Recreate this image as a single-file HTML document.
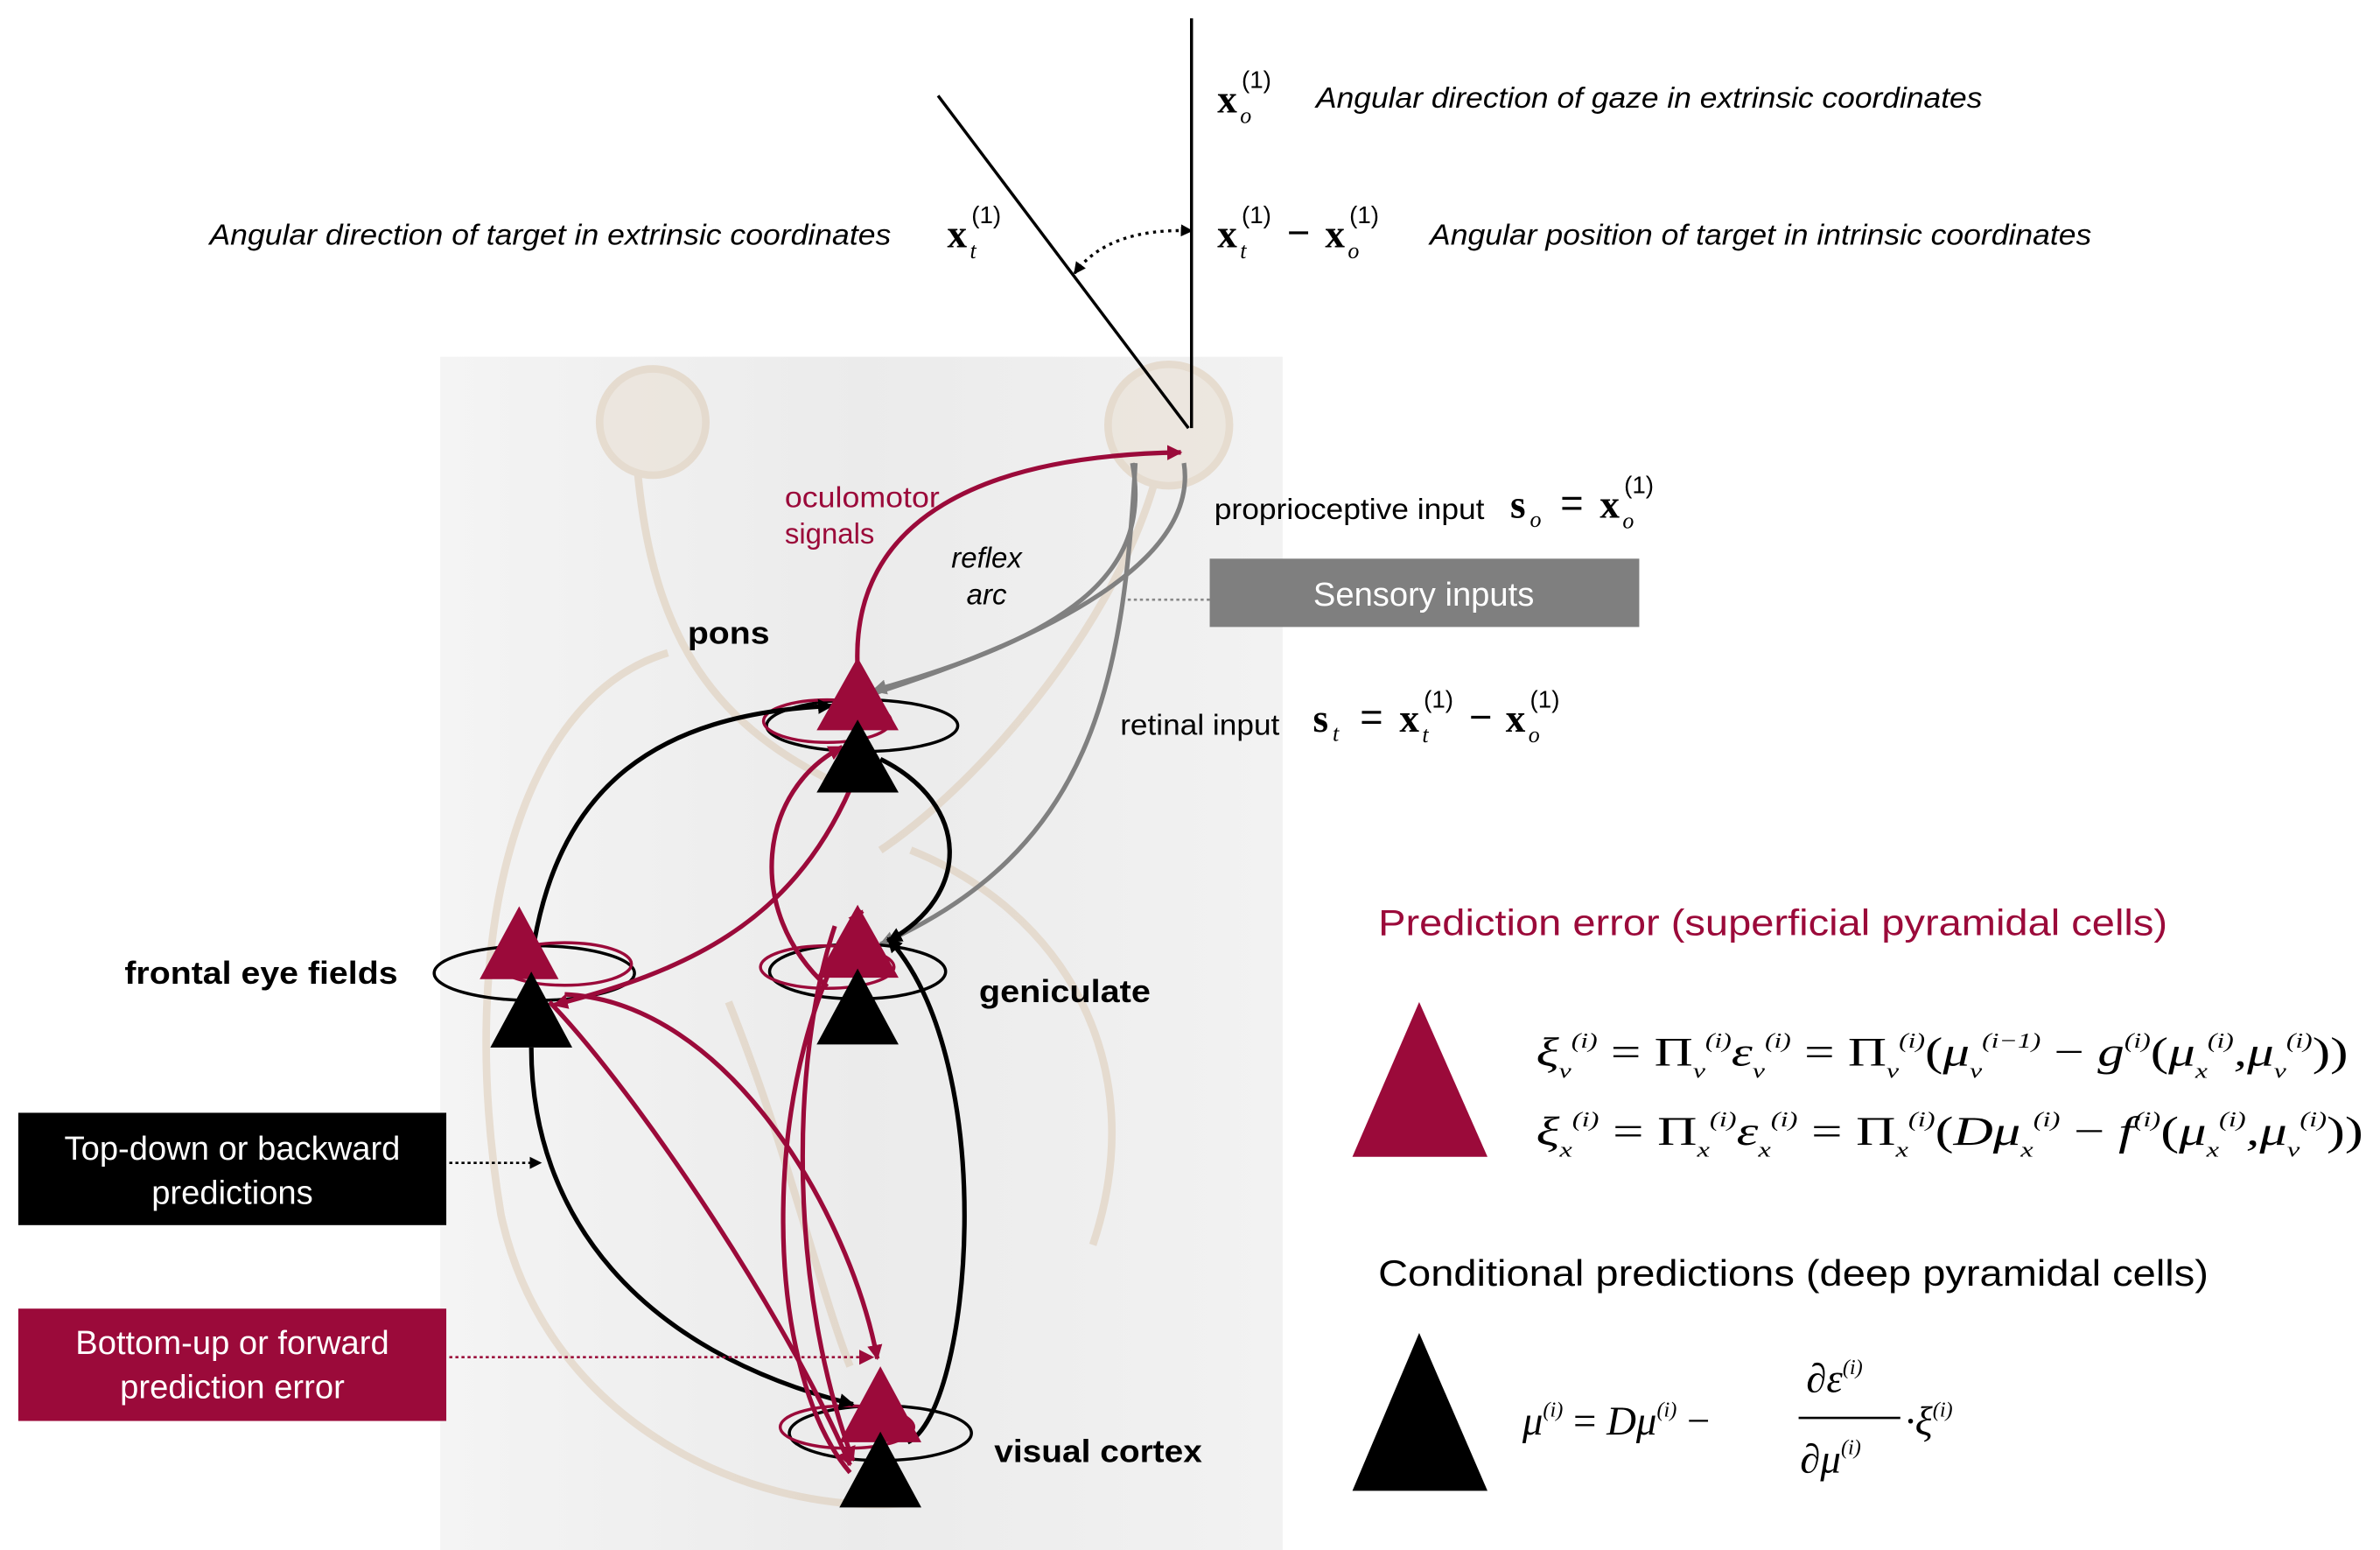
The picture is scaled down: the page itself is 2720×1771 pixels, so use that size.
<!DOCTYPE html>
<html><head><meta charset="utf-8"><style>
html,body{margin:0;padding:0;background:#fff;}
svg{display:block;}
text{font-family:"Liberation Sans",sans-serif;}
.m{font-family:"Liberation Serif",serif;font-style:italic;}
.b{font-family:"Liberation Serif",serif;font-weight:bold;}
</style></head><body>
<svg width="2720" height="1771" viewBox="0 0 1568 1021" xmlns="http://www.w3.org/2000/svg">
<defs>
<linearGradient id="bg" x1="0" x2="1" y1="0" y2="0">
<stop offset="0" stop-color="#f4f4f4"/><stop offset="0.5" stop-color="#ebebeb"/><stop offset="1" stop-color="#f2f2f2"/></linearGradient>
<marker id="ak" markerWidth="8" markerHeight="8" refX="7" refY="4" orient="auto" markerUnits="userSpaceOnUse"><path d="M0,0 L8,4 L0,8 z" fill="#000"/></marker>
<marker id="ar" markerWidth="10" markerHeight="10" refX="9" refY="5" orient="auto" markerUnits="userSpaceOnUse"><path d="M0,0 L10,5 L0,10 z" fill="#9b0a3a"/></marker>
<marker id="ab" markerWidth="10" markerHeight="10" refX="9" refY="5" orient="auto" markerUnits="userSpaceOnUse"><path d="M0,0 L10,5 L0,10 z" fill="#000"/></marker>
<marker id="ag" markerWidth="10" markerHeight="10" refX="9" refY="5" orient="auto" markerUnits="userSpaceOnUse"><path d="M0,0 L10,5 L0,10 z" fill="#808080"/></marker>
</defs>
<rect x="290" y="235" width="555" height="786" fill="url(#bg)"/>
<g fill="none" stroke="#d9c3a8" stroke-width="5" opacity="0.45">
<circle cx="430" cy="278" r="35" fill="#e8dccb"/>
<circle cx="770" cy="280" r="40" fill="#e8dccb"/>
<path d="M420,310 C430,420 470,480 560,520"/>
<path d="M760,320 C730,420 640,520 580,560"/>
<path d="M440,430 C340,460 300,620 330,800 C360,940 500,1000 600,990"/>
<path d="M600,560 C700,600 760,700 720,820"/>
<path d="M480,660 C520,760 540,850 560,900"/>
</g>
<line x1="618" y1="63" x2="783" y2="282" stroke="#000" stroke-width="2"/>
<line x1="785" y1="12" x2="785" y2="282" stroke="#000" stroke-width="2"/>
<path d="M708,180 Q730,150 785,152" fill="none" stroke="#000" stroke-width="2" stroke-dasharray="2,3" marker-end="url(#ak)"/>
<path d="M760,150 Q730,150 708,180" fill="none" stroke="none" marker-end="url(#ak)"/>
<text x="867" y="71" font-size="19" font-style="italic" textLength="439" lengthAdjust="spacingAndGlyphs">Angular direction of gaze in extrinsic coordinates</text>
<text x="138" y="161" font-size="19" font-style="italic" textLength="449" lengthAdjust="spacingAndGlyphs">Angular direction of target in extrinsic coordinates</text>
<text x="942" y="161" font-size="19" font-style="italic" textLength="436" lengthAdjust="spacingAndGlyphs">Angular position of target in intrinsic coordinates</text>
<text x="802" y="74" font-size="26" class="b">x</text><text x="817" y="81" font-size="15" class="m">o</text><text x="818" y="58" font-size="16" font-family="Liberation Serif">(1)</text>
<text x="624" y="163" font-size="26" class="b">x</text><text x="639" y="170" font-size="15" class="m">t</text><text x="640" y="147" font-size="16" font-family="Liberation Serif">(1)</text>
<text x="802" y="163" font-size="26" class="b">x</text><text x="817" y="170" font-size="15" class="m">t</text><text x="818" y="147" font-size="16" font-family="Liberation Serif">(1)</text>
<text x="848" y="162" font-size="26" font-family="Liberation Serif">−</text>
<text x="873" y="163" font-size="26" class="b">x</text><text x="888" y="170" font-size="15" class="m">o</text><text x="889" y="147" font-size="16" font-family="Liberation Serif">(1)</text>
<text x="800" y="342" font-size="19" textLength="178" lengthAdjust="spacingAndGlyphs">proprioceptive input</text>
<text x="995" y="341" font-size="26" class="b">s</text><text x="1008" y="347" font-size="15" class="m">o</text>
<text x="1028" y="340" font-size="26" font-family="Liberation Serif">=</text>
<text x="1054" y="341" font-size="26" class="b">x</text><text x="1069" y="348" font-size="15" class="m">o</text><text x="1070" y="325" font-size="16" font-family="Liberation Serif">(1)</text>
<text x="738" y="484" font-size="19" textLength="105" lengthAdjust="spacingAndGlyphs">retinal input</text>
<text x="865" y="482" font-size="26" class="b">s</text><text x="878" y="488" font-size="15" class="m">t</text>
<text x="896" y="481" font-size="26" font-family="Liberation Serif">=</text>
<text x="922" y="482" font-size="26" class="b">x</text><text x="937" y="489" font-size="15" class="m">t</text><text x="938" y="466" font-size="16" font-family="Liberation Serif">(1)</text>
<text x="968" y="481" font-size="26" font-family="Liberation Serif">−</text>
<text x="992" y="482" font-size="26" class="b">x</text><text x="1007" y="489" font-size="15" class="m">o</text><text x="1008" y="466" font-size="16" font-family="Liberation Serif">(1)</text>
<rect x="797" y="368" width="283" height="45" fill="#7f7f7f"/>
<text x="938" y="399" font-size="22" fill="#fff" text-anchor="middle">Sensory inputs</text>
<line x1="797" y1="395" x2="738" y2="395" stroke="#888" stroke-width="1.5" stroke-dasharray="2,2"/>
<path d="M746,305 C760,380 700,420 575,455" fill="none" stroke="#808080" stroke-width="3" marker-end="url(#ag)"/>
<path d="M780,305 C790,370 690,420 578,456" fill="none" stroke="#808080" stroke-width="3"/>
<path d="M748,305 C740,450 720,560 580,622" fill="none" stroke="#808080" stroke-width="3" marker-end="url(#ag)"/>
<text x="517" y="334" font-size="19" fill="#9b0a3a" textLength="102" lengthAdjust="spacingAndGlyphs">oculomotor</text>
<text x="517" y="358" font-size="19" fill="#9b0a3a">signals</text>
<text x="650" y="374" font-size="19" font-style="italic" text-anchor="middle">reflex</text>
<text x="650" y="398" font-size="19" font-style="italic" text-anchor="middle">arc</text>
<text x="453" y="424" font-size="21" font-weight="bold" textLength="54" lengthAdjust="spacingAndGlyphs">pons</text>
<text x="82" y="648" font-size="21" font-weight="bold" textLength="180" lengthAdjust="spacingAndGlyphs">frontal eye fields</text>
<text x="645" y="660" font-size="21" font-weight="bold" textLength="113" lengthAdjust="spacingAndGlyphs">geniculate</text>
<text x="655" y="963" font-size="21" font-weight="bold" textLength="137" lengthAdjust="spacingAndGlyphs">visual cortex</text>
<path d="M565,440 C560,340 650,300 778,298" fill="none" stroke="#9b0a3a" stroke-width="3" marker-end="url(#ar)"/>
<g fill="none" stroke-width="2">
<ellipse cx="568" cy="478" rx="63" ry="17" stroke="#000"/>
<ellipse cx="545" cy="475" rx="42" ry="14" stroke="#9b0a3a"/>
<ellipse cx="352" cy="641" rx="66" ry="18" stroke="#000"/>
<ellipse cx="372" cy="635" rx="44" ry="14" stroke="#9b0a3a"/>
<ellipse cx="565" cy="640" rx="58" ry="18" stroke="#000"/>
<ellipse cx="545" cy="637" rx="44" ry="14" stroke="#9b0a3a"/>
<ellipse cx="580" cy="944" rx="60" ry="18" stroke="#000"/>
<ellipse cx="558" cy="940" rx="44" ry="14" stroke="#9b0a3a"/>
</g>
<g fill="none" stroke="#000" stroke-width="3">
<path d="M352,620 C370,520 430,470 548,465" marker-end="url(#ab)"/>
<path d="M350,690 C350,800 420,890 562,925" marker-end="url(#ab)"/>
<path d="M580,500 C640,530 640,590 585,620" marker-end="url(#ab)"/>
<path d="M598,950 C640,930 660,700 585,618" marker-end="url(#ab)"/>
</g>
<g fill="none" stroke="#9b0a3a" stroke-width="3">
<path d="M560,520 C520,610 450,640 365,662" marker-end="url(#ar)"/>
<path d="M372,655 C480,660 560,800 578,895" marker-end="url(#ar)"/>
<path d="M362,660 C420,720 520,870 560,965" marker-end="url(#ar)"/>
<path d="M545,650 C490,600 500,520 555,492" marker-end="url(#ar)"/>
<path d="M560,970 C500,900 500,700 568,600" marker-end="url(#ar)"/>
<path d="M550,610 C520,700 520,850 562,962" marker-end="url(#ar)"/>
</g>
<g>
<polygon points="565,433 538,481 592,481" fill="#9b0a3a"/>
<polygon points="565,474 538,522 592,522" fill="#000"/>
<polygon points="342,597 316,645 368,645" fill="#9b0a3a"/>
<polygon points="350,640 323,690 377,690" fill="#000"/>
<polygon points="565,596 538,644 592,644" fill="#9b0a3a"/>
<polygon points="565,638 538,688 592,688" fill="#000"/>
<polygon points="580,900 553,950 607,950" fill="#9b0a3a"/>
<polygon points="580,943 553,993 607,993" fill="#000"/>
</g>
<rect x="12" y="733" width="282" height="74" fill="#000"/>
<text x="153" y="764" font-size="22" fill="#fff" text-anchor="middle">Top-down or backward</text>
<text x="153" y="793" font-size="22" fill="#fff" text-anchor="middle">predictions</text>
<line x1="296" y1="766" x2="356" y2="766" stroke="#000" stroke-width="1.5" stroke-dasharray="2,2" marker-end="url(#ak)"/>
<rect x="12" y="862" width="282" height="74" fill="#9b0a3a"/>
<text x="153" y="892" font-size="22" fill="#fff" text-anchor="middle">Bottom-up or forward</text>
<text x="153" y="921" font-size="22" fill="#fff" text-anchor="middle">prediction error</text>
<line x1="296" y1="894" x2="575" y2="894" stroke="#9b0a3a" stroke-width="1.5" stroke-dasharray="2,2" marker-end="url(#ar)"/>
<text x="908" y="616" font-size="24" fill="#9b0a3a" textLength="520" lengthAdjust="spacingAndGlyphs">Prediction error (superficial pyramidal cells)</text>
<polygon points="935,660 891,762 980,762" fill="#9b0a3a"/>
<text x="1012" y="702" font-size="27" class="m" textLength="535" lengthAdjust="spacingAndGlyphs">ξ<tspan font-size="14" dy="8">v</tspan><tspan font-size="14" dy="-20">(i)</tspan><tspan dy="12" font-style="normal"> = Π</tspan><tspan font-size="14" dy="8">v</tspan><tspan font-size="14" dy="-20">(i)</tspan><tspan dy="12">ε</tspan><tspan font-size="14" dy="8">v</tspan><tspan font-size="14" dy="-20">(i)</tspan><tspan dy="12" font-style="normal"> = Π</tspan><tspan font-size="14" dy="8">v</tspan><tspan font-size="14" dy="-20">(i)</tspan><tspan dy="12" font-style="normal">(</tspan>μ<tspan font-size="14" dy="8">v</tspan><tspan font-size="14" dy="-20">(i−1)</tspan><tspan dy="12" font-style="normal"> − </tspan>g<tspan font-size="14" dy="-12">(i)</tspan><tspan dy="12" font-style="normal">(</tspan>μ<tspan font-size="14" dy="8">x</tspan><tspan font-size="14" dy="-20">(i)</tspan><tspan dy="12">,μ</tspan><tspan font-size="14" dy="8">v</tspan><tspan font-size="14" dy="-20">(i)</tspan><tspan dy="12" font-style="normal">))</tspan></text>
<text x="1012" y="754" font-size="27" class="m" textLength="545" lengthAdjust="spacingAndGlyphs">ξ<tspan font-size="14" dy="8">x</tspan><tspan font-size="14" dy="-20">(i)</tspan><tspan dy="12" font-style="normal"> = Π</tspan><tspan font-size="14" dy="8">x</tspan><tspan font-size="14" dy="-20">(i)</tspan><tspan dy="12">ε</tspan><tspan font-size="14" dy="8">x</tspan><tspan font-size="14" dy="-20">(i)</tspan><tspan dy="12" font-style="normal"> = Π</tspan><tspan font-size="14" dy="8">x</tspan><tspan font-size="14" dy="-20">(i)</tspan><tspan dy="12" font-style="normal">(</tspan>Dμ<tspan font-size="14" dy="8">x</tspan><tspan font-size="14" dy="-20">(i)</tspan><tspan dy="12" font-style="normal"> − </tspan>f<tspan font-size="14" dy="-12">(i)</tspan><tspan dy="12" font-style="normal">(</tspan>μ<tspan font-size="14" dy="8">x</tspan><tspan font-size="14" dy="-20">(i)</tspan><tspan dy="12">,μ</tspan><tspan font-size="14" dy="8">v</tspan><tspan font-size="14" dy="-20">(i)</tspan><tspan dy="12" font-style="normal">))</tspan></text>
<text x="908" y="847" font-size="24" textLength="547" lengthAdjust="spacingAndGlyphs">Conditional predictions (deep pyramidal cells)</text>
<polygon points="935,878 891,982 980,982" fill="#000"/>
<text x="1003" y="945" font-size="27" class="m">μ<tspan font-size="14" dy="-12">(i)</tspan><tspan dy="12" font-style="normal"> = </tspan>Dμ<tspan font-size="14" dy="-12">(i)</tspan><tspan dy="12" font-style="normal"> − </tspan></text>
<text x="1190" y="917" font-size="27" class="m">∂ε<tspan font-size="14" dy="-12">(i)</tspan></text>
<line x1="1185" y1="934" x2="1252" y2="934" stroke="#000" stroke-width="1.5"/>
<text x="1186" y="970" font-size="27" class="m">∂μ<tspan font-size="14" dy="-12">(i)</tspan></text>
<text x="1255" y="945" font-size="27" class="m">·ξ<tspan font-size="14" dy="-12">(i)</tspan></text>
</svg>
</body></html>
